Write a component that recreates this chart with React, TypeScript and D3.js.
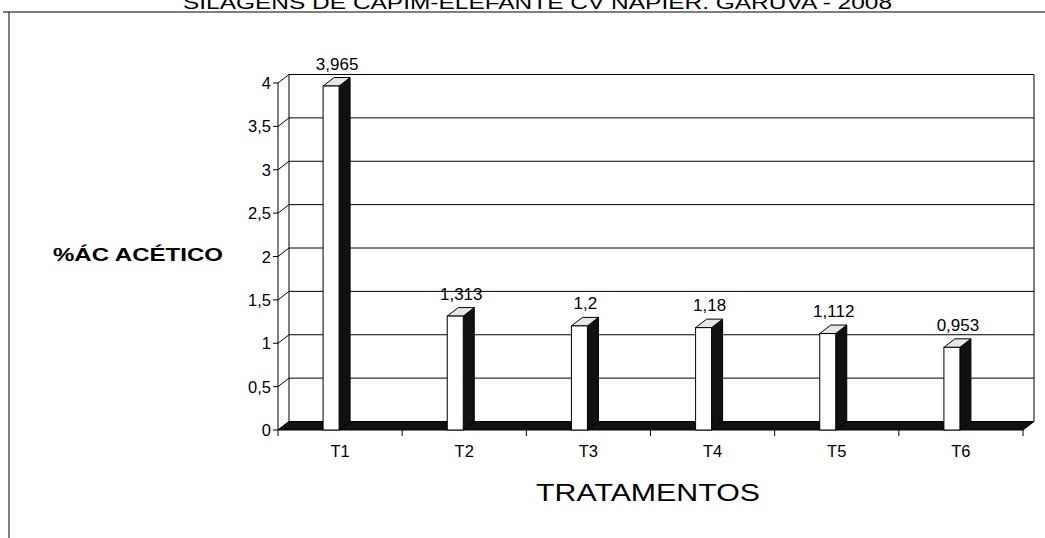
import React from "react";
import * as d3 from "d3";

const title = "SILAGENS DE CAPIM-ELEFANTE CV NAPIER. GARUVA - 2008";
const categories = ["T1", "T2", "T3", "T4", "T5", "T6"];
const values = [3.965, 1.313, 1.2, 1.18, 1.112, 0.953];
const valueLabels = ["3,965", "1,313", "1,2", "1,18", "1,112", "0,953"];
const yTicks = [0, 0.5, 1, 1.5, 2, 2.5, 3, 3.5, 4];
const yTickLabels = ["0", "0,5", "1", "1,5", "2", "2,5", "3", "3,5", "4"];
const yTitle = "%ÁC ACÉTICO";
const xTitle = "TRATAMENTOS";

const W = 1045;
const H = 538;
const FONT = "'Liberation Sans', Arial, sans-serif";

export default function App() {
  const x0 = 278;
  const x1 = 1023;
  const DX = 11;
  const DY = -8.5;
  const y = d3.scaleLinear().domain([0, 4]).range([430, 83]);
  const xb = d3.scaleBand().domain(categories).range([x0, x1]).padding(0);
  const cx = (c: string) => (xb(c) as number) + xb.bandwidth() / 2;
  const y0 = y(0);

  return (
    <svg width={W} height={H} style={{ position: "absolute", left: 0, top: 0, background: "#fff" }}>
      {/* frame */}
      <line x1={3} x2={W} y1={12} y2={12} stroke="#000" strokeWidth={1.2} />
      <line x1={9} x2={9} y1={12} y2={H} stroke="#000" strokeWidth={1} />
      {/* title */}
      <text x={183} y={9} fontFamily={FONT} fontSize={18} textLength={709} lengthAdjust="spacingAndGlyphs">
        {title}
      </text>

      {/* back wall gridlines */}
      {yTicks.map((t) => (
        <line key={"g" + t} x1={x0 + DX} x2={x1 + DX} y1={y(t) + DY} y2={y(t) + DY} stroke="#000" strokeWidth={1} />
      ))}
      <line x1={x1 + DX} x2={x1 + DX} y1={y(4) + DY} y2={y0 + DY} stroke="#000" strokeWidth={1} />
      {/* side wall */}
      <line x1={x0 + DX} x2={x0 + DX} y1={y(4) + DY} y2={y0 + DY} stroke="#000" strokeWidth={1} />
      <line x1={x0} x2={x0} y1={y(4)} y2={y0} stroke="#000" strokeWidth={1} />
      {yTicks.map((t, i) => (
        <g key={"t" + t}>
          <line x1={x0} x2={x0 + DX} y1={y(t)} y2={y(t) + DY} stroke="#000" strokeWidth={1} />
          <line x1={x0 - 5} x2={x0} y1={y(t)} y2={y(t)} stroke="#000" strokeWidth={1} />
          <text x={x0 - 7} y={y(t) + 6} textAnchor="end" fontFamily={FONT} fontSize={16.5}>
            {yTickLabels[i]}
          </text>
        </g>
      ))}

      {/* floor */}
      <polygon
        points={`${x0},${y0} ${x0 + DX},${y0 + DY} ${x1 + DX},${y0 + DY} ${x1},${y0}`}
        fill="#111"
        stroke="#000"
        strokeWidth={1}
      />
      {/* x ticks */}
      {d3.range(categories.length + 1).map((i) => {
        const xx = x0 + i * xb.bandwidth();
        return <line key={"xt" + i} x1={xx} x2={xx} y1={y0} y2={y0 + 6} stroke="#000" strokeWidth={1} />;
      })}
      {categories.map((c) => (
        <text key={"xl" + c} x={cx(c)} y={457} textAnchor="middle" fontFamily={FONT} fontSize={16.5}>
          {c}
        </text>
      ))}

      {/* bars */}
      {categories.map((c, i) => {
        const v = values[i];
        const top = y(v);
        const l = cx(c) - 17;
        const r = cx(c) - 1;
        return (
          <g key={"b" + c}>
            <polygon
              points={`${r},${y0} ${r + DX},${y0 + DY} ${r + DX},${top + DY} ${r},${top}`}
              fill="#111"
              stroke="#000"
              strokeWidth={1}
            />
            <polygon
              points={`${l},${top} ${r},${top} ${r + DX},${top + DY} ${l + DX},${top + DY}`}
              fill="#e6e6e6"
              stroke="#000"
              strokeWidth={1}
            />
            <rect x={l} y={top} width={r - l} height={y0 - top} fill="#fff" stroke="#000" strokeWidth={1} />
            <text x={cx(c) - 3} y={top + DY - 8} textAnchor="middle" fontFamily={FONT} fontSize={17}>
              {valueLabels[i]}
            </text>
          </g>
        );
      })}

      {/* axis titles */}
      <text x={53} y={261} fontFamily={FONT} fontSize={19} fontWeight="bold" textLength={170} lengthAdjust="spacingAndGlyphs">
        {yTitle}
      </text>
      <text x={536} y={501} fontFamily={FONT} fontSize={24} textLength={224} lengthAdjust="spacingAndGlyphs">
        {xTitle}
      </text>
    </svg>
  );
}
